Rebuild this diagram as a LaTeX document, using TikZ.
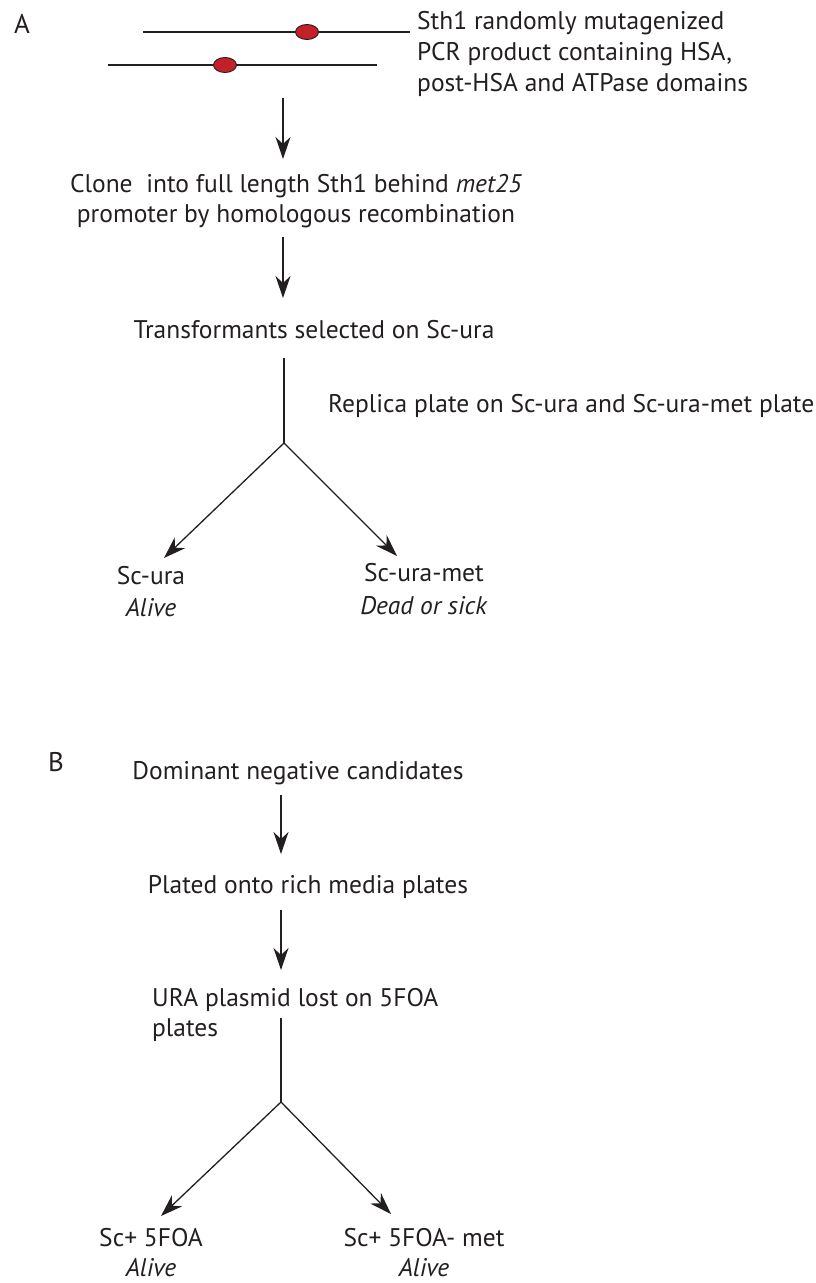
\documentclass[tikz,border=0pt]{standalone}
\usepackage{fontspec}
\setmainfont{PT Sans}
\usetikzlibrary{arrows.meta,shapes.geometric}
\definecolor{mutred}{RGB}{196,32,42}
\definecolor{ink}{RGB}{35,31,32}
\begin{document}
\begin{tikzpicture}[x=1pt,y=-1pt,
  txt/.style={font=\fontsize{25.5}{31}\selectfont, inner sep=0pt, text=ink},
  ltxt/.style={txt, anchor=base west},
  ctxt/.style={txt, anchor=base},
  arr/.style={draw=ink, line width=1.3pt, -{Stealth[length=22pt,width=15pt,inset=7pt]}},
  seg/.style={draw=ink, line width=1.3pt},
  dna/.style={draw=ink, line width=2.2pt},
  mut/.style={ellipse, draw=ink, line width=0.9pt, fill=mutred, minimum width=23pt, minimum height=15pt, inner sep=0pt}]
\useasboundingbox (0,0) rectangle (815,1283);
% ---------- A ----------
\node[ctxt, font=\fontsize{27}{31}\selectfont] (labA) at (22,33) {A};
\draw[dna] (143,32) -- (410,32);
\draw[dna] (108,65) -- (377,65);
\node[mut] (m1) at (307,32) {};
\node[mut] (m2) at (225,65) {};
\node[ltxt] (pcr1) at (417,29) {Sth1 randomly mutagenized};
\node[ltxt] (pcr2) at (417,60) {PCR product containing HSA,};
\node[ltxt] (pcr3) at (417,91) {post-HSA and ATPase domains};
\coordinate (a1s) at (283,98);
\coordinate (a1e) at (283,159);
\draw[arr] (a1s) -- (a1e);
\node[ctxt] (clone1) at (296,192) {Clone\ \ into full length Sth1 behind \textit{met25}};
\node[ctxt] (clone2) at (296,222) {promoter by homologous recombination};
\coordinate (a2s) at (283,237);
\coordinate (a2e) at (283,298);
\draw[arr] (a2s) -- (a2e);
\node[ctxt] (trans) at (314,338) {Transformants selected on Sc-ura};
\coordinate (j1top) at (284,358);
\coordinate (j1) at (284,443);
\coordinate (t1l) at (164,558);
\coordinate (t1r) at (397,556);
\draw[seg] (j1top) -- (j1);
\draw[arr] (j1) -- (t1l);
\draw[arr] (j1) -- (t1r);
\node[ltxt] (replica) at (328,412) {Replica plate on Sc-ura and Sc-ura-met plate};
\node[ctxt] (scura) at (151,584) {Sc-ura};
\node[ctxt] (alive1) at (151,616) {\textit{Alive}};
\node[ctxt] (scuramet) at (424,581) {Sc-ura-met};
\node[ctxt] (dead) at (424,614) {\textit{Dead or sick}};
% ---------- B ----------
\node[ctxt, font=\fontsize{27}{31}\selectfont] (labB) at (56,771) {B};
\node[ctxt] (dom) at (298,779) {Dominant negative candidates};
\coordinate (b1s) at (281,795);
\coordinate (b1e) at (281,854);
\draw[arr] (b1s) -- (b1e);
\node[ctxt] (plated) at (308,893) {Plated onto rich media plates};
\coordinate (b2s) at (281,910);
\coordinate (b2e) at (281,970);
\draw[arr] (b2s) -- (b2e);
\node[ltxt] (ura1) at (152,1006) {URA plasmid lost on 5FOA};
\node[ltxt] (ura2) at (152,1036) {plates};
\coordinate (j2top) at (281,1018);
\coordinate (j2) at (281,1102);
\coordinate (t2l) at (161,1216);
\coordinate (t2r) at (391,1214);
\draw[seg] (j2top) -- (j2);
\draw[arr] (j2) -- (t2l);
\draw[arr] (j2) -- (t2r);
\node[ctxt] (sc5) at (151,1246) {Sc+ 5FOA};
\node[ctxt] (alive2) at (151,1276) {\textit{Alive}};
\node[ctxt] (sc5m) at (424,1246) {Sc+ 5FOA- met};
\node[ctxt] (alive3) at (424,1276) {\textit{Alive}};
\end{tikzpicture}
\end{document}
